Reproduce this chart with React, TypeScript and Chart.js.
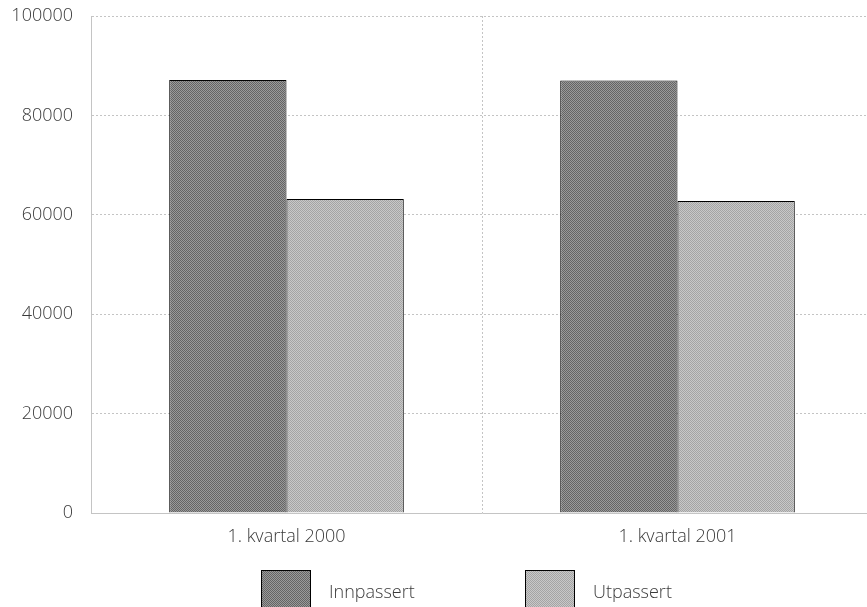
import React, { useEffect, useRef } from "react";
import { Chart, registerables } from "chart.js";

Chart.register(...registerables);

const categories = ["1. kvartal 2000", "1. kvartal 2001"];
const innpassert = [87100, 87000];
const utpassert = [63200, 62800];
const seriesNames = ["Innpassert", "Utpassert"];
const yTicks = [0, 20000, 40000, 60000, 80000, 100000];

function makePattern(a: string, b: string): CanvasPattern | string {
  const c = document.createElement("canvas");
  c.width = 2;
  c.height = 2;
  const ctx = c.getContext("2d");
  if (!ctx) return a;
  ctx.fillStyle = a;
  ctx.fillRect(0, 0, 2, 2);
  ctx.fillStyle = b;
  ctx.fillRect(0, 0, 1, 1);
  ctx.fillRect(1, 1, 1, 1);
  const p = ctx.createPattern(c, "repeat");
  return p || a;
}

const FONT = "'Open Sans', 'DejaVu Sans', sans-serif";

const legendPlugin = {
  id: "customLegend",
  afterDraw(chart: any) {
    const ctx = chart.ctx as CanvasRenderingContext2D;
    const area = chart.chartArea;
    const boxTop = area.bottom + 57;
    const boxW = 50;
    const boxH = 46;
    const startX = area.left + 170;
    const spacing = 264;
    ctx.save();
    chart.data.datasets.forEach((ds: any, i: number) => {
      const x = startX + i * spacing;
      ctx.fillStyle = ds.backgroundColor;
      ctx.fillRect(x, boxTop, boxW, boxH);
      ctx.strokeStyle = "#000";
      ctx.lineWidth = 1;
      ctx.strokeRect(x + 0.5, boxTop + 0.5, boxW - 1, boxH - 1);
      ctx.fillStyle = "#3a3a3a";
      ctx.font = `300 18px ${FONT}`;
      ctx.textBaseline = "middle";
      ctx.textAlign = "left";
      ctx.fillText(ds.label, x + 68, boxTop + 23);
    });
    ctx.restore();
  },
};

export default function App() {
  const ref = useRef<HTMLCanvasElement | null>(null);

  useEffect(() => {
    if (!ref.current) return;
    const dark = makePattern("#9a9a9a", "#646464");
    const light = makePattern("#c8c8c8", "#a4a4a4");
    const chart = new Chart(ref.current, {
      type: "bar",
      data: {
        labels: categories,
        datasets: [
          {
            label: seriesNames[0],
            data: innpassert,
            backgroundColor: dark as any,
            borderColor: "#000",
            borderWidth: 1,
            categoryPercentage: 0.6,
            barPercentage: 1.0,
          },
          {
            label: seriesNames[1],
            data: utpassert,
            backgroundColor: light as any,
            borderColor: "#000",
            borderWidth: 1,
            categoryPercentage: 0.6,
            barPercentage: 1.0,
          },
        ],
      },
      options: {
        animation: false,
        responsive: true,
        maintainAspectRatio: false,
        layout: { padding: { left: 0, top: 16, right: 7, bottom: 79 } },
        plugins: {
          legend: { display: false },
          tooltip: { enabled: false },
        },
        scales: {
          x: {
            grid: {
              color: "#c4c4c4",
              drawTicks: false,
              offset: true,
            },
            border: { color: "#c4c4c4", dash: [2, 2] },
            ticks: {
              color: "#3a3a3a",
              font: { family: FONT, size: 18, weight: 300 as any },
              padding: 13,
            },
            afterFit(scale: any) {
              scale.height = 40;
              scale.paddingLeft = 0;
              scale.paddingRight = 0;
            },
          },
          y: {
            min: 0,
            max: 100000,
            afterBuildTicks(scale: any) {
              scale.ticks = yTicks.map((v) => ({ value: v }));
            },
            grid: {
              color: "#c4c4c4",
              drawTicks: false,
            },
            border: { color: "#c4c4c4", dash: [2, 2] },
            ticks: {
              color: "#3a3a3a",
              font: { family: FONT, size: 18, weight: 300 as any },
              padding: 18,
              callback: (v: any) => String(v),
            },
            afterFit(scale: any) {
              scale.width = 91;
              scale.paddingTop = 0;
              scale.paddingBottom = 0;
            },
          },
        },
      },
      plugins: [legendPlugin],
    });
    return () => chart.destroy();
  }, []);

  return (
    <div
      style={{
        position: "fixed",
        left: 0,
        top: 0,
        width: 867,
        height: 607,
        overflow: "hidden",
        background: "#fff",
      }}
    >
      <div style={{ position: "relative", width: 880, height: 632 }}>
        <canvas ref={ref} />
      </div>
    </div>
  );
}
